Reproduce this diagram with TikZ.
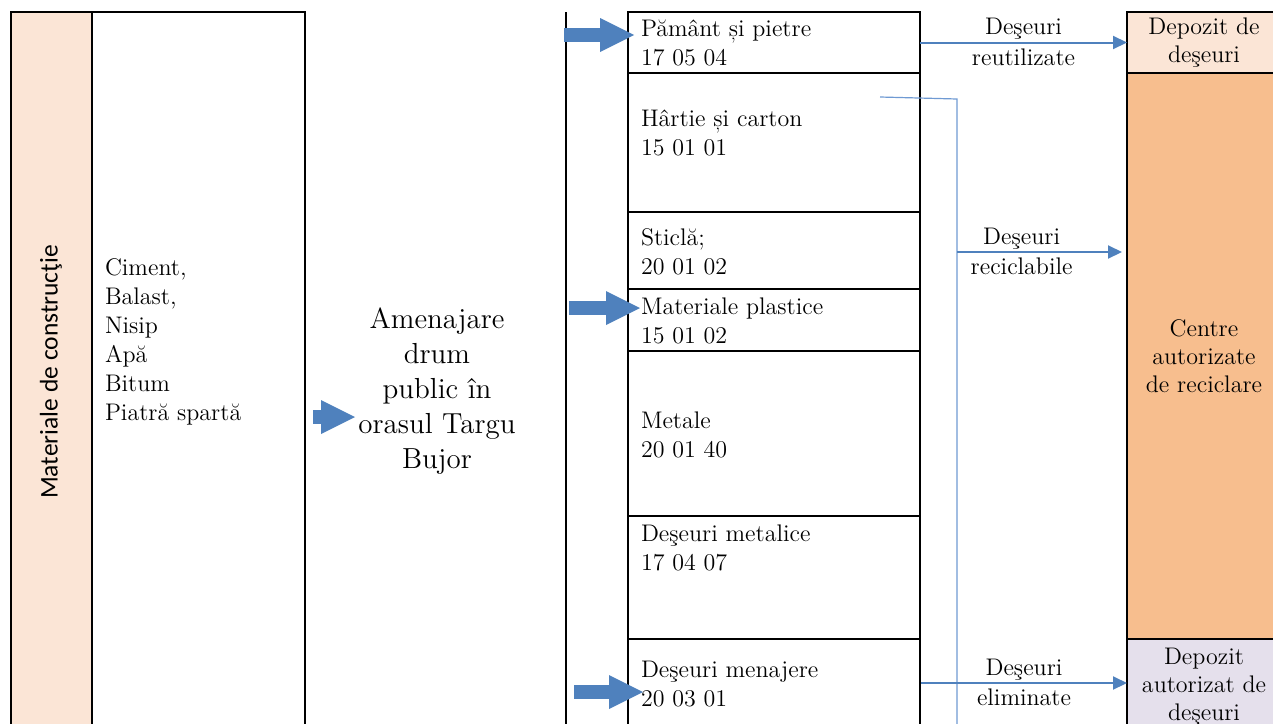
\documentclass[tikz,border=0pt]{standalone}
\usepackage{fontspec}
\newfontfamily\calibri{Carlito}
\usetikzlibrary{arrows.meta,positioning}

\definecolor{peach}{HTML}{FBE5D6}
\definecolor{apricot}{HTML}{F7BE8E}
\definecolor{lilac}{HTML}{E5E0EC}
\definecolor{wordblue}{HTML}{4F81BD}
\definecolor{busblue}{HTML}{6F9AD3}

\begin{document}
\begin{tikzpicture}[x=0.5pt,y=-0.5pt,inner sep=0pt,outer sep=0pt,
  >={Triangle[width=6.5pt,length=7pt]},
  box/.style={draw,line width=0.6pt,rectangle,anchor=north west},
  wbox/.style={box,minimum width=146pt},
  rbox/.style={box,minimum width=77pt,align=center,font=\fontsize{12}{14}\selectfont},
  txt/.style={anchor=west,align=left,font=\fontsize{12}{14.5}\selectfont},
  lbl/.style={text=black,font=\fontsize{12}{14.5}\selectfont},
  flow/.style={->,wordblue,line width=1pt},
  bus/.style={busblue,line width=0.6pt},
  fat/.style={wordblue,line width=7pt,-{Triangle[width=17pt,length=17pt,line width=0pt]}}]
\useasboundingbox (0,0) rectangle (1273,723);
\clip (0,0) rectangle (1273,723);
% materials
\node[box,minimum width=106.5pt,minimum height=370pt] (lista) at (92,12) {};
\node[box,line width=1pt,fill=peach,minimum width=40.5pt,minimum height=370pt] (mat) at (11,12) {};
\node[rotate=90,font=\calibri\fontsize{12.75}{15}\selectfont] (matlbl) at (51,372) {Materiale de construcţie};
\node[txt] (listatxt) at (105,342) {Ciment,\\Balast,\\Nisip\\Apă\\Bitum\\Piatră spartă};
\node[align=center,font=\fontsize{14.5}{17.5}\selectfont] (proj) at (437,391) {Amenajare\\drum\\public în\\orasul Targu\\Bujor};
\draw[line width=0.6pt] (566,12) -- (566,740);
%
% waste boxes
\node[wbox,minimum height=30.5pt] (pam) at (628,12) {};
\node[wbox,minimum height=69.5pt,below=0pt of pam] (hart) {};
\node[wbox,minimum height=38.5pt,below=0pt of hart] (stic) {};
\node[wbox,minimum height=31pt,below=0pt of stic] (plas) {};
\node[wbox,minimum height=82.5pt,below=0pt of plas] (met) {};
\node[wbox,minimum height=61.5pt,below=0pt of met] (dmet) {};
\node[wbox,minimum height=50.5pt,below=0pt of dmet] (men) {};
\node[txt] (pamtxt) at (641,43) {Pământ și pietre\\17 05 04};
\node[txt] (harttxt) at (641,132.5) {Hârtie și carton\\15 01 01};
\node[txt] (stictxt) at (641,251.5) {Sticlă;\\20 01 02};
\node[txt] (plastxt) at (641,320.5) {Materiale plastice\\15 01 02};
\node[txt] (mettxt) at (641,434.5) {Metale\\20 01 40};
\node[txt] (dmettxt) at (641,547.5) {Deşeuri metalice\\17 04 07};
\node[txt] (mentxt) at (641,684.5) {Deşeuri menajere\\20 03 01};
%
% destinations
\node[rbox,fill=peach,minimum height=30.5pt] (dep) at (1127,12) {Depozit de\\deşeuri};
\node[rbox,fill=apricot,minimum height=283pt,below=0pt of dep] (cen) {Centre\\autorizate\\de reciclare};
\node[rbox,fill=lilac,minimum height=48pt,below=0pt of cen] (depaut) {Depozit\\autorizat de\\deşeuri};
%
% flows
\coordinate (bus0) at (880,97);
\coordinate (bus1) at (957,99);
\coordinate (bus2) at (957,740);
\coordinate (rec) at (957,252);
\coordinate (elim) at (921,683);
\draw[bus] (bus0) -- (bus1) -- (bus2);
\draw[flow] (pam.east) -- (dep.west)
  node[lbl,midway,above=1.5pt] {Deşeuri} node[lbl,midway,below=3pt] {reutilizate};
\draw[flow,shorten >=2.5pt] (rec) -- (rec -| cen.west)
  node[lbl,pos=0.38,above=1.5pt] {Deşeuri} node[lbl,pos=0.38,below=3pt] {reciclabile};
\draw[flow] (elim) -- (elim -| depaut.west)
  node[lbl,midway,above=1.5pt] {Deşeuri} node[lbl,midway,below=3pt] {eliminate};
%
% inputs
\coordinate (f1a) at (564,35);  \coordinate (f1b) at (634,35);
\coordinate (f2a) at (569,308); \coordinate (f2b) at (640,308);
\coordinate (f3a) at (574,692); \coordinate (f3b) at (643,692);
\coordinate (f4a) at (313,417); \coordinate (f4b) at (355,417);
\draw[fat] (f1a) -- (f1b);
\draw[fat] (f2a) -- (f2b);
\draw[fat] (f3a) -- (f3b);
\draw[fat] (f4a) -- (f4b);
\end{tikzpicture}
\end{document}
